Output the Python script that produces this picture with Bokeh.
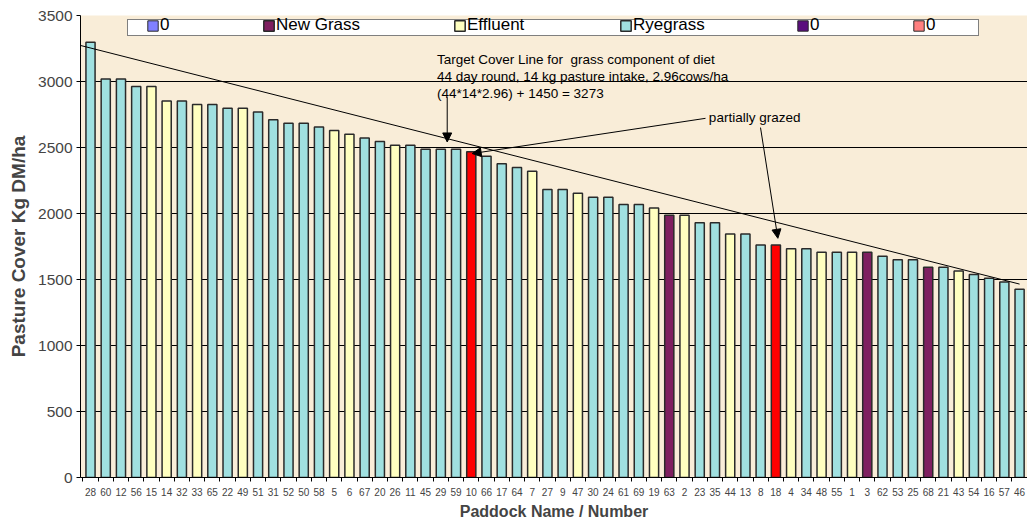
from bokeh.plotting import figure
from bokeh.models import (ColumnDataSource, FixedTicker, Legend, LegendItem, Arrow,
                          NormalHead, Label, Range1d)
from bokeh.embed import file_html
from bokeh.resources import INLINE

# ---------------- data ----------------
paddocks = ["28", "60", "12", "56", "15", "14", "32", "33", "65", "22",
            "49", "51", "31", "52", "50", "58", "5", "6", "67", "20",
            "26", "11", "45", "29", "59", "10", "66", "17", "64", "7",
            "27", "9", "47", "30", "24", "61", "69", "19", "63", "2",
            "23", "35", "44", "13", "8", "18", "4", "34", "48", "55",
            "1", "3", "62", "53", "25", "68", "21", "43", "54", "16",
            "57", "46"]
cover = [3298, 3018, 3018, 2963, 2963, 2852, 2852, 2825, 2825, 2797,
         2797, 2769, 2711, 2684, 2684, 2656, 2628, 2600, 2572, 2545,
         2517, 2517, 2487, 2487, 2487, 2467, 2434, 2376, 2348, 2321,
         2182, 2182, 2154, 2124, 2124, 2069, 2069, 2041, 1986, 1986,
         1930, 1930, 1844, 1844, 1761, 1761, 1733, 1733, 1706, 1706,
         1706, 1706, 1676, 1650, 1650, 1593, 1593, 1565, 1537, 1510,
         1482, 1426]
R, E, N, P = "Ryegrass", "Effluent", "New Grass", "Partially grazed"
kinds = [R, R, R, R, E, E, R, E, R, R,
         E, R, R, R, R, R, E, E, R, R,
         E, R, R, R, R, P, R, R, R, E,
         R, R, E, R, R, R, R, E, N, E,
         R, R, E, R, R, P, E, R, E, R,
         E, N, R, R, R, N, R, E, R, R,
         R, R]
# the three series named "0" in the original hold zero values
zero_series = [0, 0, 0, 0, 0, 0, 0, 0, 0, 0,
               0, 0, 0, 0, 0, 0, 0, 0, 0, 0,
               0, 0, 0, 0, 0, 0, 0, 0, 0, 0,
               0, 0, 0, 0, 0, 0, 0, 0, 0, 0,
               0, 0, 0, 0, 0, 0, 0, 0, 0, 0,
               0, 0, 0, 0, 0, 0, 0, 0, 0, 0,
               0, 0]
legend_labels = ["0", "New Grass", "Effluent", "Ryegrass", "0", "0"]
legend_colors = ["#8080FF", "#7F1F60", "#FFFFC0", "#A0E0E0", "#5B0E7E", "#FF8080"]
kind_colors = {R: "#A0E0E0", E: "#FFFFC0", N: "#7F1F60", P: "#FF0000"}

target_start = 3273   # (44*14*2.96) + 1450
target_end = 1450
y_ticks = [0, 500, 1000, 1500, 2000, 2500, 3000, 3500]

FONT = "Liberation Sans"
FRAME_L, FRAME_B = 80, 478  # page px of frame left / bottom (for legend placement)

x0, x1 = -0.657, 61.52

p = figure(width=1027, height=522, x_range=Range1d(x0, x1), y_range=Range1d(0, 3500),
           output_backend="svg", toolbar_location=None,
           min_border_left=80, min_border_right=0, min_border_top=15, min_border_bottom=44)
p.background_fill_color = "#F9EDD8"
p.border_fill_color = "white"
p.outline_line_color = None

# grid
p.xgrid.grid_line_color = None
p.ygrid.grid_line_color = "black"
p.ygrid.grid_line_width = 1
p.ygrid.ticker = FixedTicker(ticks=y_ticks)

# y axis
p.yaxis.ticker = FixedTicker(ticks=y_ticks)
p.yaxis.axis_label = "Pasture Cover Kg DM/ha"
p.yaxis.axis_label_text_font = FONT
p.yaxis.axis_label_text_font_style = "bold"
p.yaxis.axis_label_text_font_size = "19px"
p.yaxis.axis_label_standoff = 6
p.yaxis.major_label_text_font = FONT
p.yaxis.major_label_text_font_size = "15.5px"
p.yaxis.major_label_standoff = 4
p.yaxis.major_tick_out = 4
p.yaxis.major_tick_in = 0
p.yaxis.minor_tick_out = 0
p.yaxis.minor_tick_in = 0
p.yaxis.axis_line_color = "black"

# x axis
idx = list(range(len(paddocks)))
p.xaxis.ticker = FixedTicker(ticks=idx, minor_ticks=[i - 0.5 for i in range(len(paddocks) + 1)])
p.xaxis.major_label_overrides = {i: lab for i, lab in zip(idx, paddocks)}
p.xaxis.major_tick_out = 0
p.xaxis.major_tick_in = 0
p.xaxis.minor_tick_out = 4
p.xaxis.minor_tick_in = 0
p.xaxis.major_label_text_font = FONT
p.xaxis.major_label_text_font_size = "10px"
p.xaxis.major_label_standoff = 6
p.xaxis.axis_label = "Paddock Name / Number"
p.xaxis.axis_label_text_font = FONT
p.xaxis.axis_label_text_font_style = "bold"
p.xaxis.axis_label_text_font_size = "16px"
p.xaxis.axis_label_standoff = 4
p.xaxis.axis_line_color = "black"

# bars
renderers = {}
for k in [R, E, N, P]:
    xs = [i for i in idx if kinds[i] == k]
    src = ColumnDataSource(dict(x=xs, top=[cover[i] for i in xs],
                                name=[paddocks[i] for i in xs]))
    renderers[k] = p.vbar(x="x", top="top", bottom=0, width=0.6, source=src,
                          fill_color=kind_colors[k], line_color="#2A2A2A", line_width=1.5)

# target cover line
slope = (target_end - target_start) / (x1 - x0)
line_end_x = 61.0
p.line(x=[x0, line_end_x], y=[target_start, target_start + slope * (line_end_x - x0)],
       line_color="black", line_width=1)

# annotations
ann_lines = ["Target Cover Line for \u00a0grass component of diet",
             "44 day round, 14 kg pasture intake, 2.96cows/ha",
             "(44*14*2.96) + 1450 = 3273"]
for t, yy in zip(ann_lines, [3167, 3039, 2910]):
    p.add_layout(Label(x=22.75, y=yy, text=t, text_font=FONT, text_font_size="13.5px",
                       text_baseline="middle", text_color="black"))
p.add_layout(Label(x=40.6, y=2729, text="partially grazed", text_font=FONT,
                   text_font_size="13.5px", text_baseline="middle", text_color="black"))


def arrow(xs, ys, xe, ye):
    p.add_layout(Arrow(end=NormalHead(size=9, fill_color="black", line_color="black"),
                       x_start=xs, y_start=ys, x_end=xe, y_end=ye,
                       line_color="black", line_width=1))


arrow(23.42, 2880, 23.42, 2542)
arrow(40.38, 2721, 25.06, 2454)
arrow(43.99, 2651, 45.13, 1812)

# legend: white box, then individual items positioned like the original
GW = 13  # legend glyph box (area glyphs are drawn inset by 10%)
box_r = p.vbar(x=[0], top=[0], width=0.6, fill_alpha=0, line_alpha=0)
box_left, box_right, box_bottom = 127, 980, 37
pad = 1
box = Legend(items=[LegendItem(label=" ", renderers=[box_r])],
             location=(box_left - FRAME_L, FRAME_B - box_bottom),
             orientation="horizontal", padding=pad, margin=0, spacing=0,
             glyph_width=GW, glyph_height=GW, label_standoff=1,
             label_width=(box_right - box_left) - 2 * pad - GW - 1 - 3,
             border_line_color="black", border_line_width=1,
             background_fill_color="white", background_fill_alpha=1,
             label_text_font=FONT, label_text_font_size="17px")
p.add_layout(box, "center")

glyph_lefts = [147, 263, 454, 620, 797, 913]
for lab, col, gx in zip(legend_labels, legend_colors, glyph_lefts):
    if lab in renderers:
        r = renderers[lab]
    else:
        zsrc = ColumnDataSource(dict(x=idx, top=zero_series))
        r = p.vbar(x="x", top="top", bottom=0, width=0.6, source=zsrc,
                   fill_color=col, line_color="#2A2A2A", line_width=1)
    lg = Legend(items=[LegendItem(label=lab, renderers=[r])],
                location=(gx - FRAME_L - pad - 1, FRAME_B - box_bottom),
                orientation="horizontal", padding=pad, margin=0, spacing=0,
                glyph_width=GW, glyph_height=GW, label_standoff=1,
                border_line_alpha=0, background_fill_alpha=0,
                label_text_font=FONT, label_text_font_size="17px", label_text_color="black")
    p.add_layout(lg, "center")

open("out.html", "w").write(file_html(p, INLINE))
